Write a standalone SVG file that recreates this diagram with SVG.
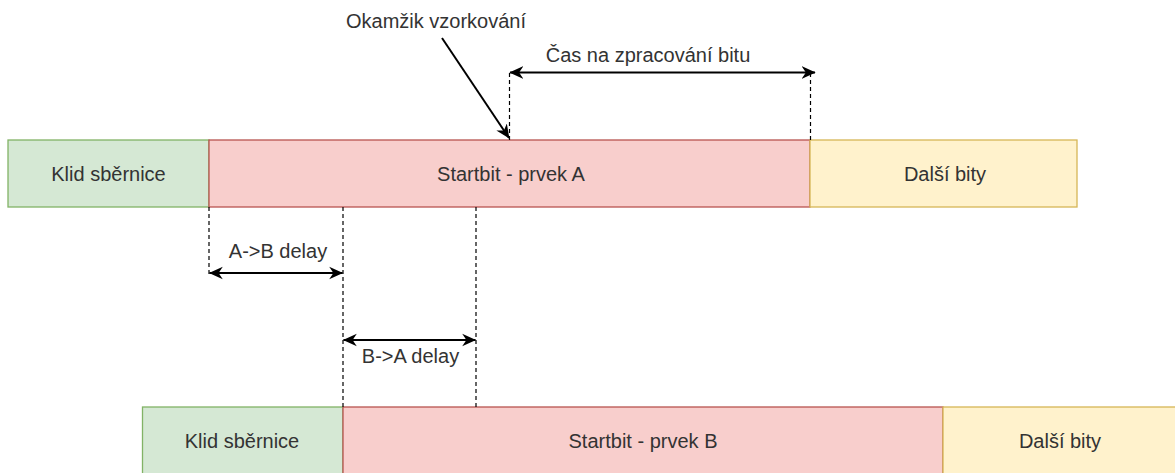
<svg xmlns="http://www.w3.org/2000/svg" width="1175" height="473" viewBox="0 0 1175 473">
  <style>
    text { font-family: "Liberation Sans", Arial, sans-serif; font-size: 20px; fill: #333333; text-anchor: middle; dominant-baseline: central; }
    .idle { fill: #d5e8d4; stroke: #82b366; stroke-width: 1.3; }
    .start { fill: #f8cecc; stroke: #b85450; stroke-width: 1.3; }
    .rest { fill: #fff2cc; stroke: #d6b656; stroke-width: 1.3; }
    .guide { stroke: #000; stroke-width: 1.2; stroke-dasharray: 4 3; fill: none; }
    .dim { stroke: #000; stroke-width: 2; fill: none; }
  </style>
  <defs>
    <marker id="dimhead" viewBox="0 0 10 10" refX="9.5" refY="5" markerWidth="14" markerHeight="14" orient="auto-start-reverse" markerUnits="userSpaceOnUse">
      <path d="M0,0.5 L10,5 L0,9.5 L3,5 Z" fill="#000"/>
    </marker>
  </defs>

  <!-- top row: device A -->
  <g id="a-idle"><rect class="idle" x="8" y="140" width="201" height="67"/><text x="108.5" y="173.5">Klid sběrnice</text></g>
  <g id="a-start"><rect class="start" x="209" y="140" width="601" height="67"/><text x="511" y="173.5">Startbit - prvek A</text></g>
  <g id="a-rest"><rect class="rest" x="810" y="140" width="267" height="67"/><text x="945" y="173.5">Další bity</text></g>

  <!-- bottom row: device B -->
  <g id="b-idle"><rect class="idle" x="142.5" y="407" width="200.5" height="70"/><text x="242" y="440.5">Klid sběrnice</text></g>
  <g id="b-start"><rect class="start" x="343" y="407" width="600" height="70"/><text x="643" y="440.5">Startbit - prvek B</text></g>
  <g id="b-rest"><rect class="rest" x="943" y="407" width="240" height="70"/><text x="1060" y="440.5">Další bity</text></g>

  <!-- labels -->
  <g id="labels">
    <text x="436" y="21">Okamžik vzorkování</text>
    <text x="648" y="55">Čas na zpracování bitu</text>
    <text x="278" y="251">A-&gt;B delay</text>
    <text x="410.5" y="356">B-&gt;A delay</text>
  </g>

  <!-- connectors -->
  <g id="connectors">
    <!-- guide lines -->
    <line class="guide" x1="509.5" y1="73" x2="509.5" y2="140"/>
    <line class="guide" x1="810.5" y1="73" x2="810.5" y2="140"/>
    <line class="guide" x1="209" y1="207" x2="209" y2="274"/>
    <line class="guide" x1="343" y1="207" x2="343" y2="407"/>
    <line class="guide" x1="476" y1="207" x2="476" y2="407"/>
    <!-- dimension arrows -->
    <line class="dim" x1="510" y1="72.5" x2="815" y2="72.5" marker-start="url(#dimhead)" marker-end="url(#dimhead)"/>
    <line class="dim" x1="209.5" y1="273" x2="342.5" y2="273" marker-start="url(#dimhead)" marker-end="url(#dimhead)"/>
    <line class="dim" x1="343.5" y1="340" x2="475.5" y2="340" marker-start="url(#dimhead)" marker-end="url(#dimhead)"/>
    <!-- sampling point pointer -->
    <line class="dim" x1="442" y1="38" x2="509" y2="138" stroke-width="1.5" marker-end="url(#dimhead)"/>
  </g>
</svg>
